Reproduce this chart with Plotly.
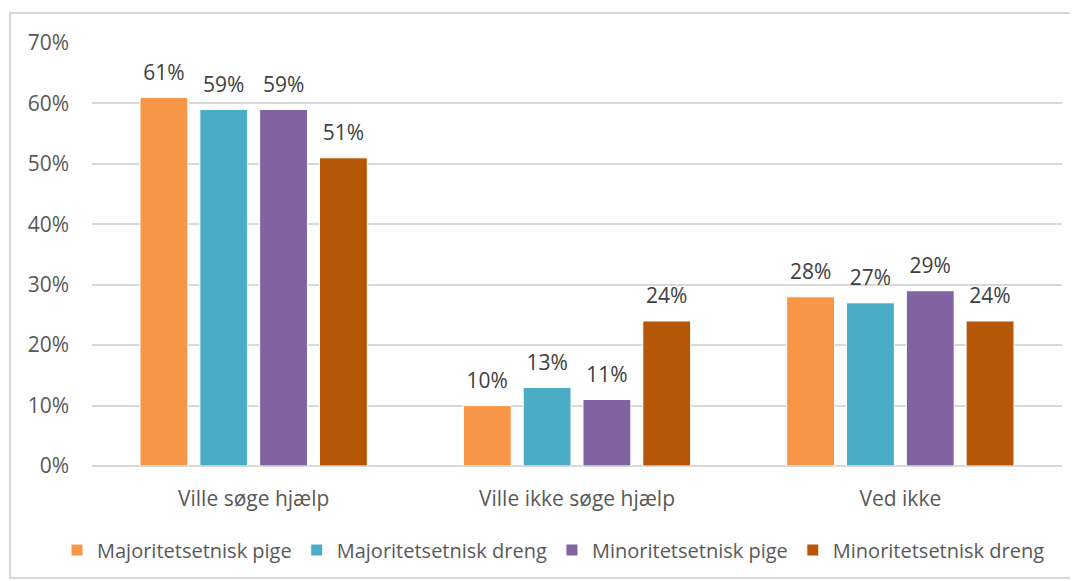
import plotly.graph_objects as go

categories = ["Ville søge hjælp", "Ville ikke søge hjælp", "Ved ikke"]
series_names = ["Majoritetsetnisk pige", "Majoritetsetnisk dreng", "Minoritetsetnisk pige", "Minoritetsetnisk dreng"]
maj_pige = [0.61, 0.10, 0.28]
maj_dreng = [0.59, 0.13, 0.27]
min_pige = [0.59, 0.11, 0.29]
min_dreng = [0.51, 0.24, 0.24]
values = [maj_pige, maj_dreng, min_pige, min_dreng]
colors = ["#F79646", "#4BACC6", "#8064A2", "#B65708"]
y_ticks = [0, 0.1, 0.2, 0.3, 0.4, 0.5, 0.6, 0.7]

FONT = "'Open Sans', sans-serif"
TXT = "#595959"
FS = 21

fig = go.Figure()
for i, (name, vals, col) in enumerate(zip(series_names, values, colors)):
    fig.add_trace(go.Bar(
        x=categories, y=vals, name=name, offsetgroup=str(i),
        marker=dict(color=col, line=dict(color="white", width=1)),
    ))
for i, (name, vals) in enumerate(zip(series_names, values)):
    fig.add_trace(go.Scatter(
        x=categories, y=vals, offsetgroup=str(i), mode="markers+text",
        marker=dict(size=18, color="rgba(0,0,0,0)"),
        text=[f"{round(v*100)}%" for v in vals],
        textposition="top center",
        textfont=dict(size=FS, color="#404040", family=FONT),
        showlegend=False, hoverinfo="skip", cliponaxis=False,
    ))

# page has an 8px body margin; figure is sized to fit the 1078x581 window
OFF = 8
W, H = 1078 - OFF, 581 - OFF
L, R, T, B = 84, 16, 35, 115
pw, ph = W - L - R, H - T - B

def px(xpage):
    return (xpage - OFF - L) / pw

def py(ypage):
    return (H - B - (ypage - OFF)) / ph

fig.update_layout(
    width=W, height=H,
    margin=dict(l=L, r=R, t=T, b=B, autoexpand=False),
    paper_bgcolor="white", plot_bgcolor="white",
    barmode="group", bargap=0.26, bargroupgap=0.2,
    scattermode="group", scattergap=0.26,
    font=dict(family=FONT, color=TXT, size=FS),
    showlegend=True,
    legend=dict(orientation="h", x=px(57), xanchor="left", y=py(550), yanchor="middle",
                font=dict(size=20, color=TXT, family=FONT), itemwidth=30,
                traceorder="normal"),
    xaxis=dict(showgrid=False, showline=False, ticks="", ticklabelstandoff=18,
               tickfont=dict(size=FS, color=TXT)),
    yaxis=dict(range=[0, 0.7], tickvals=y_ticks, tickformat=".0%",
               showgrid=True, gridcolor="#D9D9D9", gridwidth=2,
               zeroline=True, zerolinecolor="#D9D9D9", zerolinewidth=2,
               showline=False, ticks="", ticklabelstandoff=22,
               tickfont=dict(size=FS, color=TXT)),
    shapes=[dict(type="rect", xref="paper", yref="paper",
                 x0=px(10), x1=px(1075), y0=py(578), y1=py(13),
                 line=dict(color="#D9D9D9", width=2), fillcolor="rgba(0,0,0,0)", layer="below")],
)

fig.write_html("out.html")
